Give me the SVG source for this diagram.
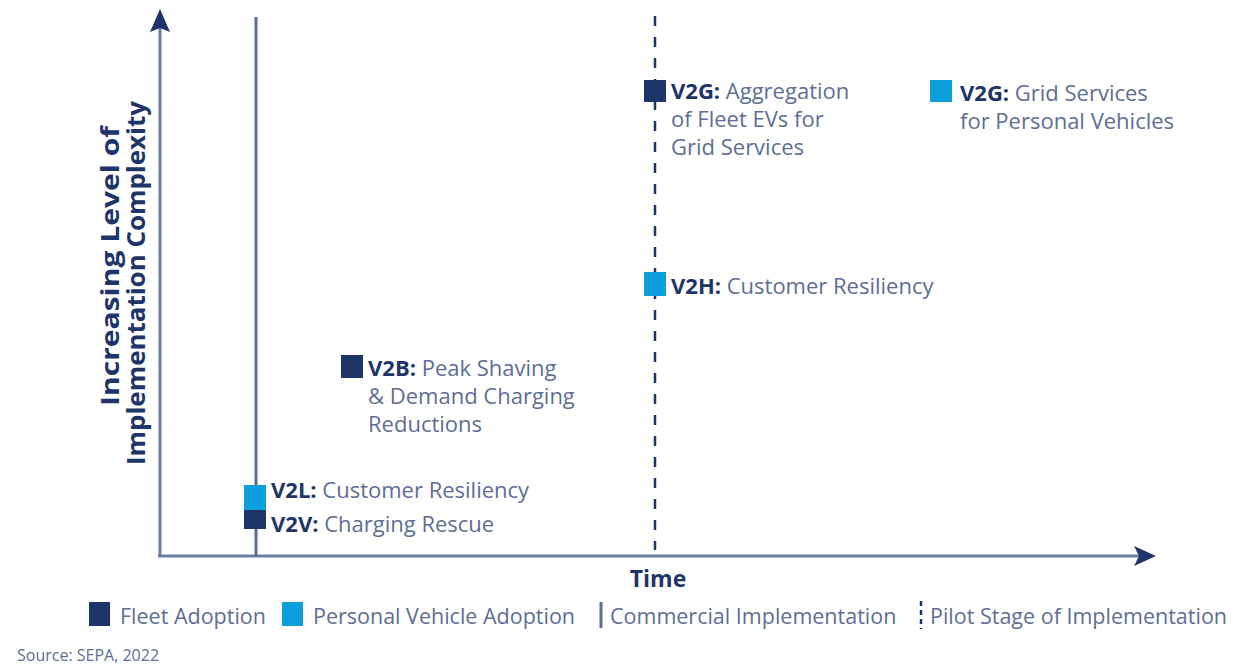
<svg xmlns="http://www.w3.org/2000/svg" width="1240" height="665" viewBox="0 0 1240 665">
<style>
.t{font-family:"Open Sans","Noto Sans",sans-serif;font-size:22px;fill:#5e6e94;}
.b{font-weight:bold;fill:#1f3468;}
.lg{font-size:21.5px;}
.ax{stroke:#6d7ea5;stroke-width:3;fill:none;}
.fleet{fill:#1f3468;}
.pers{fill:#0d9fdc;}
</style>
<rect width="1240" height="665" fill="#ffffff"/>
<g id="connectors">
<line class="ax" x1="160" y1="28" x2="160" y2="556"/>
<polygon fill="#1f3468" points="160,9 150,32 160,28 170,32"/>
<line class="ax" x1="158" y1="556" x2="1140" y2="556"/>
<polygon fill="#1f3468" points="1156,556 1134,546 1139,556 1134,566"/>
<line x1="256" y1="17" x2="256" y2="556" stroke="#5c6d95" stroke-width="3"/>
<line x1="655" y1="16" x2="655" y2="550" stroke="#1f3468" stroke-width="2.5" stroke-dasharray="10,11"/>
</g>
<g id="yaxis-label">
<text class="t b" transform="translate(119,266) rotate(-90)" text-anchor="middle" style="font-size:25px" textLength="280" lengthAdjust="spacingAndGlyphs">Increasing Level of</text>
<text class="t b" transform="translate(145,283) rotate(-90)" text-anchor="middle" style="font-size:25px" textLength="364" lengthAdjust="spacingAndGlyphs">Implementation Complexity</text>
</g>
<g id="xaxis-label"><text class="t b" x="658" y="587" text-anchor="middle" style="font-size:23px">Time</text></g>
<g id="v2g-fleet">
<rect class="fleet" x="644" y="80" width="22" height="22"/>
<text class="t" x="671" y="99"><tspan class="b">V2G:</tspan> Aggregation</text>
<text class="t" x="671" y="127">of Fleet EVs for</text>
<text class="t" x="671" y="155">Grid Services</text>
</g>
<g id="v2g-personal">
<rect class="pers" x="930" y="80" width="22" height="22"/>
<text class="t" x="960" y="101"><tspan class="b">V2G:</tspan> Grid Services</text>
<text class="t" x="960" y="129">for Personal Vehicles</text>
</g>
<g id="v2h">
<rect class="pers" x="644" y="272" width="22" height="24"/>
<text class="t" x="671" y="294"><tspan class="b">V2H:</tspan> Customer Resiliency</text>
</g>
<g id="v2b">
<rect class="fleet" x="341" y="355" width="22" height="23"/>
<text class="t" x="368" y="376"><tspan class="b">V2B:</tspan> Peak Shaving</text>
<text class="t" x="368" y="404">&amp; Demand Charging</text>
<text class="t" x="368" y="432">Reductions</text>
</g>
<g id="v2l">
<rect class="pers" x="244" y="485" width="22" height="26"/>
<text class="t" x="271" y="498"><tspan class="b">V2L:</tspan> Customer Resiliency</text>
</g>
<g id="v2v">
<rect class="fleet" x="244" y="510" width="22" height="19"/>
<text class="t" x="271" y="532"><tspan class="b">V2V:</tspan> Charging Rescue</text>
</g>
<g id="legend">
<rect class="fleet" x="89" y="602" width="21" height="24"/>
<text class="t lg" x="120" y="624">Fleet Adoption</text>
<rect class="pers" x="282" y="602" width="21" height="24"/>
<text class="t lg" x="313" y="624">Personal Vehicle Adoption</text>
<line x1="601" y1="602" x2="601" y2="628" stroke="#5c6d95" stroke-width="3"/>
<text class="t lg" x="610" y="624">Commercial Implementation</text>
<line x1="921" y1="601" x2="921" y2="629" stroke="#1f3468" stroke-width="2.5" stroke-dasharray="5,4"/>
<text class="t lg" x="930" y="624">Pilot Stage of Implementation</text>
</g>
<g id="source"><text class="t" x="17" y="661" style="font-size:16px">Source: SEPA, 2022</text></g>
</svg>
